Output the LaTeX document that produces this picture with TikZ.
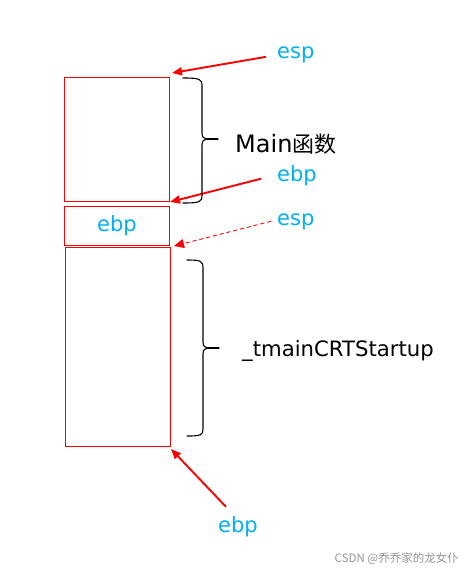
\documentclass[tikz,border=0pt]{standalone}
\usepackage{fontspec}
\setmainfont{DejaVu Sans}
\newfontfamily\cjkfont{Noto Sans CJK SC}
\usetikzlibrary{arrows.meta}
\definecolor{lblue}{RGB}{0,176,240}
\definecolor{wmgrey}{RGB}{150,150,150}
\begin{document}
\begin{tikzpicture}[x=1pt,y=-1pt,
  box/.style={draw=red, line width=0.9pt, inner sep=0pt, anchor=north west},
  lbl/.style={text=lblue, font=\fontsize{21}{25}\selectfont, inner sep=0pt, anchor=base west},
  arr/.style={draw=red, line width=1.9pt, -{Triangle[length=10pt,width=8pt]}},
  darr/.style={draw=red, line width=0.9pt, dash pattern=on 4pt off 3pt, -{Triangle[length=10pt,width=9pt]}},
  bracepath/.style={draw=black, line width=1.1pt, line cap=round},
  bigtext/.style={text=black, inner sep=0pt, anchor=base west}
]
\path[fill=white] (0,0) rectangle (474,574);
\useasboundingbox (0,0) rectangle (474,574);

% stack frames
\node[box, minimum width=105pt, minimum height=124pt] (r1) at (64,77) {};
\node[box, minimum width=105pt, minimum height=39pt, text=lblue, font=\fontsize{21}{25}\selectfont] (r2) at (64,206) {ebp};
\node[box, minimum width=105pt, minimum height=199pt] (r3) at (65,247) {};

% labels
\node[lbl] (esp1) at (277,58) {esp};
\node[lbl] (ebp1) at (277,181) {ebp};
\node[lbl] (esp2) at (277,225) {esp};
\node[lbl] (ebp3) at (218,532) {ebp};

\node[bigtext, font=\fontsize{24}{28}\selectfont] (mainf) at (235,152) {Main{\cjkfont\fontsize{22}{26}\selectfont 函数}};
\node[bigtext, font=\fontsize{21.2}{25}\selectfont] (tmain) at (242,356) {\_tmainCRTStartup};

% arrow tips
\coordinate (t1) at (172,73);
\coordinate (t2) at (170,202);
\coordinate (t3) at (174,246);
\coordinate (t4) at (171,449);

\draw[arr] ([xshift=-11pt,yshift=-2.5pt]esp1.west) -- (t1);
\draw[arr] ([xshift=-16pt,yshift=-3.5pt]ebp1.west) -- (t2);
\draw[darr] ([xshift=-6pt]esp2.west) -- (t3);
\draw[arr] ([xshift=-12pt,yshift=9pt]ebp3.north) -- (t4);

% braces
\draw[bracepath] (183,78) .. controls (200,78) and (202,79) .. (202,86) -- (202,133)
  .. controls (202,137) and (204,139) .. (207,139)
  .. controls (204,139) and (202,141) .. (202,145) -- (202,195)
  .. controls (202,202) and (200,203) .. (183,203);
\draw[bracepath] (207,139) -- (218,139);

\draw[bracepath] (187,260) .. controls (201,260) and (203,261) .. (203,268) -- (203,342)
  .. controls (203,346) and (205,348) .. (208,348)
  .. controls (205,348) and (203,350) .. (203,354) -- (203,429)
  .. controls (203,435) and (201,436) .. (187,436);
\draw[bracepath] (208,348) -- (219,348);

% watermark
\node[text=wmgrey, font=\cjkfont\fontsize{11.5}{14}\selectfont, inner sep=0pt, anchor=base east] (wm) at (459,562) {CSDN @乔乔家的龙女仆};
\end{tikzpicture}
\end{document}
